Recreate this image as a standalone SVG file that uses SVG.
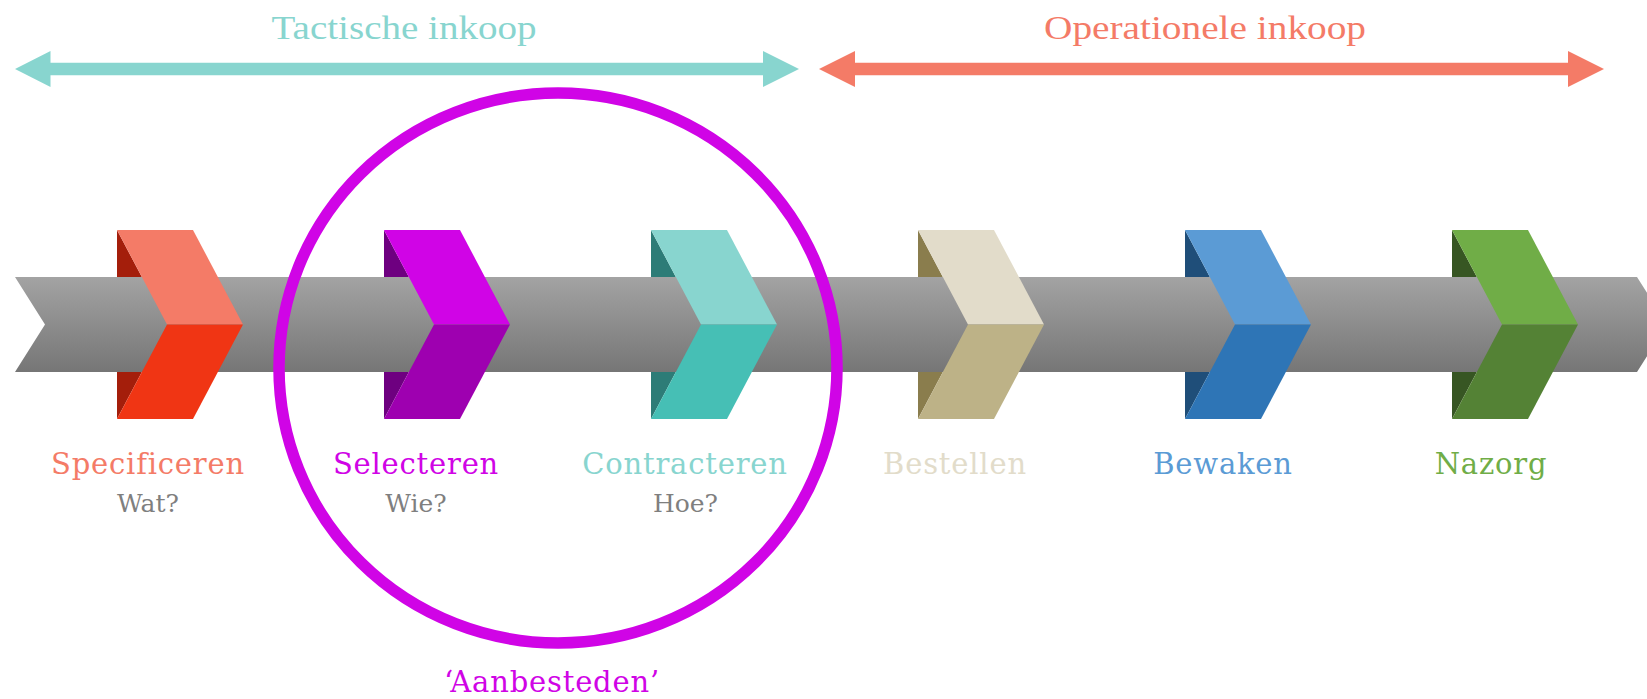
<svg xmlns="http://www.w3.org/2000/svg" width="1647" height="699" viewBox="0 0 1647 699">
  <defs>
    <linearGradient id="band" x1="0" y1="0" x2="0" y2="1">
      <stop offset="0" stop-color="#a3a3a3"/>
      <stop offset="1" stop-color="#767676"/>
    </linearGradient>
  </defs>
  <style>
    .hdr { font-family: "Liberation Serif", "DejaVu Serif", serif; font-size: 33px; text-anchor: middle; }
    .lbl { font-family: "DejaVu Serif", "Liberation Serif", serif; font-size: 29px; text-anchor: middle; letter-spacing: 0.8px; }
    .sub { font-family: "DejaVu Serif", "Liberation Serif", serif; font-size: 25px; text-anchor: middle; fill: #7f7f7f; }
  </style>
  <rect width="1647" height="699" fill="#ffffff"/>

  <g id="connectors">
    <polygon id="arrow-tactisch" fill="#88D5CF" points="15,69 50.5,51 50.5,62.7 763,62.7 763,51 799,69 763,87 763,75.3 50.5,75.3 50.5,87"/>
    <polygon id="arrow-operationeel" fill="#F47B67" points="819,69 855,51 855,62.7 1568,62.7 1568,51 1604,69 1568,87 1568,75.3 855,75.3 855,87"/>
  </g>

  <g id="headers">
    <text class="hdr" x="404" y="39" fill="#88D5CF" textLength="265" lengthAdjust="spacingAndGlyphs">Tactische inkoop</text>
    <text class="hdr" x="1205" y="39" fill="#F47B67" textLength="322" lengthAdjust="spacingAndGlyphs">Operationele inkoop</text>
  </g>

  <g id="backs">
    <polygon fill="#A41E0B" points="117,230 167,324.5 117,419"/>
    <polygon fill="#6E0080" points="384,230 434,324.5 384,419"/>
    <polygon fill="#2D7C77" points="651,230 701,324.5 651,419"/>
    <polygon fill="#8A7D4D" points="918,230 968,324.5 918,419"/>
    <polygon fill="#1F4E79" points="1185,230 1235,324.5 1185,419"/>
    <polygon fill="#375623" points="1452,230 1502,324.5 1452,419"/>
  </g>

  <g id="band-arrow">
    <polygon fill="url(#band)" points="15,277 1637,277 1667,324.5 1637,372 15,372 45,324.5"/>
  </g>

  <g id="node-specificeren">
    <polygon fill="#F47B67" points="117,230 193,230 243,324.5 167,324.5"/>
    <polygon fill="#F03514" points="167,324.5 243,324.5 193,419 117,419"/>
    <text class="lbl" x="148" y="474" fill="#F47B67">Specificeren</text>
    <text class="sub" x="148" y="512">Wat?</text>
  </g>
  <g id="node-selecteren">
    <polygon fill="#D004E6" points="384,230 460,230 510,324.5 434,324.5"/>
    <polygon fill="#9E00B0" points="434,324.5 510,324.5 460,419 384,419"/>
    <text class="lbl" x="416" y="474" fill="#D004E6">Selecteren</text>
    <text class="sub" x="416" y="512">Wie?</text>
  </g>
  <g id="node-contracteren">
    <polygon fill="#88D5CF" points="651,230 727,230 777,324.5 701,324.5"/>
    <polygon fill="#46BFB5" points="701,324.5 777,324.5 727,419 651,419"/>
    <text class="lbl" x="685" y="474" fill="#88D5CF">Contracteren</text>
    <text class="sub" x="685.5" y="512">Hoe?</text>
  </g>
  <g id="node-bestellen">
    <polygon fill="#E2DCCA" points="918,230 994,230 1044,324.5 968,324.5"/>
    <polygon fill="#BDB287" points="968,324.5 1044,324.5 994,419 918,419"/>
    <text class="lbl" x="955" y="474" fill="#E2DCCA">Bestellen</text>
  </g>
  <g id="node-bewaken">
    <polygon fill="#5B9BD5" points="1185,230 1261,230 1311,324.5 1235,324.5"/>
    <polygon fill="#2E75B6" points="1235,324.5 1311,324.5 1261,419 1185,419"/>
    <text class="lbl" x="1223" y="474" fill="#5B9BD5">Bewaken</text>
  </g>
  <g id="node-nazorg">
    <polygon fill="#70AD47" points="1452,230 1528,230 1578,324.5 1502,324.5"/>
    <polygon fill="#548235" points="1502,324.5 1578,324.5 1528,419 1452,419"/>
    <text class="lbl" x="1491" y="474" fill="#70AD47">Nazorg</text>
  </g>

  <g id="aanbesteden">
    <ellipse cx="558" cy="368" rx="279" ry="275" fill="none" stroke="#D004E6" stroke-width="11.5"/>
    <text class="lbl" x="552" y="692" fill="#D004E6">‘Aanbesteden’</text>
  </g>
</svg>
